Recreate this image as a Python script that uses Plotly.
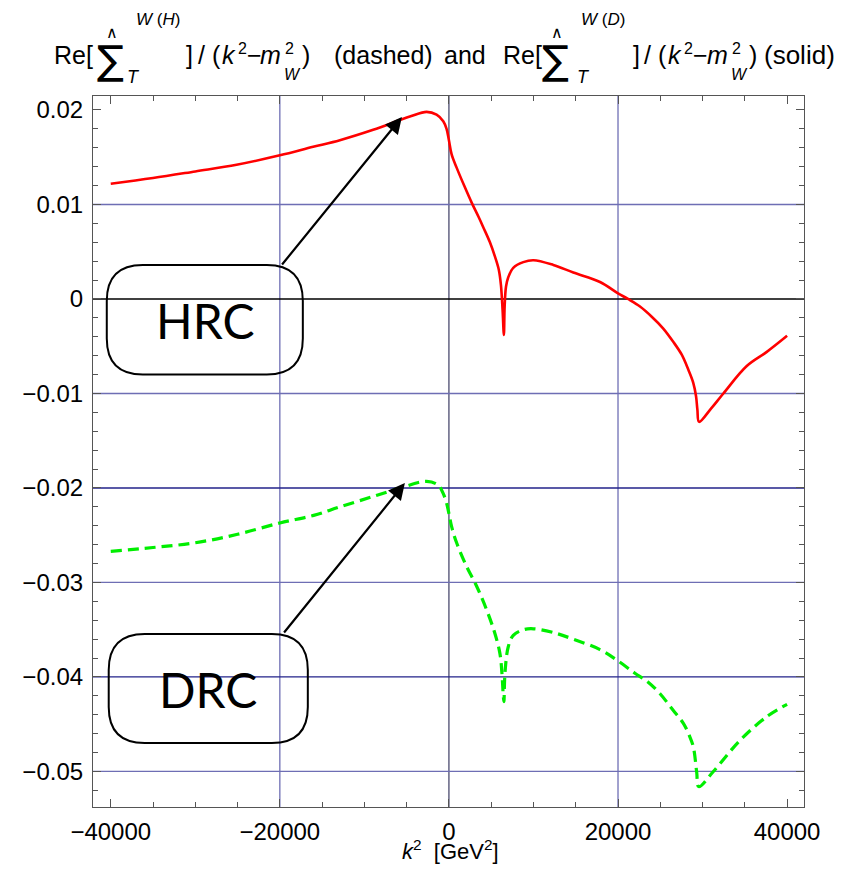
import plotly.graph_objects as go

# ---------------- data ----------------
k2_red = [-40000, -35000, -30000, -25120, -20000, -16060, -12900, -8960, -4620, -2640, -1460,
          -670, -280, 0, 320, 910, 1800, 2690, 3500, 4060, 4850, 5440, 5900, 6150, 6350, 6500,
          6590, 6750, 7020, 7610, 8800, 10000, 12350, 14710, 17870, 20000, 21180, 22600, 24020,
          25330, 26510, 27540, 28320, 28910, 29230, 29390, 29590, 31000, 32460, 35230, 37600,
          40000]
hrc_vals = [0.0122, 0.0128, 0.0135, 0.0142, 0.0152, 0.0161, 0.0168, 0.0179, 0.0193, 0.0198,
            0.0195, 0.0188, 0.0180, 0.0168, 0.0153, 0.0139, 0.0120, 0.0102, 0.0087, 0.0076,
            0.0060, 0.0045, 0.0031, 0.0015, -0.0012, -0.0038, -0.0008, 0.0013, 0.0023, 0.0033,
            0.0039, 0.0041, 0.0036, 0.0028, 0.0018, 0.0006, 0.0000, -0.0008, -0.0019, -0.0031,
            -0.0045, -0.0059, -0.0075, -0.0089, -0.0103, -0.0117, -0.0130, -0.0116, -0.0100,
            -0.0071, -0.0056, -0.0039]

k2_green = [-40000, -35000, -30000, -25000, -20000, -16000, -12900, -8960, -5410, -2640, -1260,
            -670, -280, 0, 320, 910, 2090, 3280, 4460, 5440, 6030, 6270, 6430, 6500, 6630, 7020,
            7610, 8800, 10000, 12350, 14710, 17870, 20000, 22000, 23500, 25000, 26500, 27730,
            28440, 28910, 29310, 29550, 31280, 34440, 37600, 40000]
drc_vals = [-0.0267, -0.0263, -0.0258, -0.0249, -0.0237, -0.0229, -0.0220, -0.0209, -0.0199,
            -0.0193, -0.0197, -0.0206, -0.0216, -0.0227, -0.0241, -0.0258, -0.0283, -0.0304,
            -0.0329, -0.0354, -0.0375, -0.0396, -0.0420, -0.0426, -0.0396, -0.0368, -0.0356,
            -0.0350, -0.0349, -0.0353, -0.0360, -0.0371, -0.0383, -0.0396, -0.0405, -0.0418,
            -0.0435, -0.0449, -0.0462, -0.0474, -0.0501, -0.0516, -0.0500, -0.0467, -0.0442,
            -0.0429]

x_tickvals = [-40000, -20000, 0, 20000, 40000]
x_ticktext = ["\u221240000", "\u221220000", "0", "20000", "40000"]
y_tickvals = [0.02, 0.01, 0, -0.01, -0.02, -0.03, -0.04, -0.05]
y_ticktext = ["0.02", "0.01", "0", "\u22120.01", "\u22120.02", "\u22120.03", "\u22120.04", "\u22120.05"]

x_grid = [-20000, 0, 20000]
y_grid = [0.01, 0, -0.01, -0.02, -0.03, -0.04, -0.05]

X_RANGE = [-42100, 42000]
Y_RANGE = [-0.05376, 0.02148]

# ---------------- figure ----------------
W, H = 846, 877
L, R, T, B = 93, 42, 96, 70
PW, PH = W - L - R, H - T - B


def pxx(xp):
    return (xp - L) / PW


def pxy(yp):
    return (H - B - yp) / PH


fig = go.Figure()

# grid lines (behind data)
for gx in x_grid:
    fig.add_shape(type="line", xref="x", yref="paper", x0=gx, x1=gx, y0=0, y1=1,
                  line=dict(color="#4a4a6e" if gx == 0 else "#6e6eb4", width=1.3), layer="below")
for gy in y_grid:
    if gy == 0:
        col = "#000000"
    elif gy in (-0.02, -0.04):
        col = "#22228a"
    else:
        col = "#6e6eb4"
    fig.add_shape(type="line", xref="paper", yref="y", x0=0, x1=1, y0=gy, y1=gy,
                  line=dict(color=col, width=1.3), layer="below")

fig.add_trace(go.Scatter(x=k2_red, y=hrc_vals, mode="lines",
                         line=dict(color="#ff0000", width=2.6, shape="spline", smoothing=1.0),
                         showlegend=False, hoverinfo="skip"))
fig.add_trace(go.Scatter(x=k2_green, y=drc_vals, mode="lines",
                         line=dict(color="#00ee00", width=3.2, dash="11px,6px", shape="spline", smoothing=1.0),
                         showlegend=False, hoverinfo="skip"))


def rounded_box(x0, x1, y0, y1, rpx):
    # rounded rectangle in data coordinates, radius given in pixels
    rx = rpx * (X_RANGE[1] - X_RANGE[0]) / PW
    ry = rpx * (Y_RANGE[1] - Y_RANGE[0]) / PH
    return (f"M {x0 + rx},{y1} L {x1 - rx},{y1} Q {x1},{y1} {x1},{y1 - ry} "
            f"L {x1},{y0 + ry} Q {x1},{y0} {x1 - rx},{y0} "
            f"L {x0 + rx},{y0} Q {x0},{y0} {x0},{y0 + ry} "
            f"L {x0},{y1 - ry} Q {x0},{y1} {x0 + rx},{y1} Z")


# boxes: (x0, x1, y0, y1)
hrc_box = (-40470, -17280, -0.0080, 0.0036)
drc_box = (-40240, -16690, -0.0470, -0.03545)
for bx in (hrc_box, drc_box):
    fig.add_shape(type="path", xref="x", yref="y", path=rounded_box(*bx, 36),
                  line=dict(color="black", width=2), fillcolor="rgba(0,0,0,0)")

fig.add_annotation(x=-28900, y=-0.0023, xref="x", yref="y", text="HRC", showarrow=False,
                   font=dict(family="Lato", size=48, color="black"))
fig.add_annotation(x=-28500, y=-0.0413, xref="x", yref="y", text="DRC", showarrow=False,
                   font=dict(family="Lato", size=48, color="black"))

# arrows
fig.add_annotation(x=-5560, y=0.01926, ax=-19880, ay=0.00349, xref="x", yref="y",
                   axref="x", ayref="y", text="", showarrow=True, arrowhead=2,
                   arrowsize=1.5, arrowwidth=2.2, arrowcolor="black")
fig.add_annotation(x=-5210, y=-0.01947, ax=-19640, ay=-0.03545, xref="x", yref="y",
                   axref="x", ayref="y", text="", showarrow=True, arrowhead=2,
                   arrowsize=1.5, arrowwidth=2.2, arrowcolor="black")

# ---------------- title pieces ----------------
TF = "Liberation Sans"
SIG = "DejaVu Sans"


def tpiece(text, xp, yp, size, xanchor="left", family=TF):
    fig.add_annotation(x=pxx(xp), y=pxy(yp), xref="paper", yref="paper", text=text,
                       showarrow=False, xanchor=xanchor, yanchor="middle", borderpad=0,
                       font=dict(family=family, size=size, color="black"))


title_pieces = [
    # text, left x (px), centre y (px), size, anchor, family
    ("Re[", 53, 55, 25, "left", TF),
    ("\u2211", 96, 60, 40, "left", SIG),
    ("\u2227", 112, 33, 16, "center", TF),
    ("<i>W</i> (<i>H</i>)", 135, 19, 17, "left", TF),
    ("<i>T</i>", 126, 77, 18, "left", TF),
    ("]", 185, 55, 25, "left", TF),
    ("/", 197, 55, 25, "left", TF),
    ("(", 211, 55, 25, "left", TF),
    ("<i>k</i>", 221, 55, 25, "left", TF),
    ("2", 237, 49, 16, "left", TF),
    ("\u2212", 246, 55, 25, "left", TF),
    ("<i>m</i>", 259, 55, 25, "left", TF),
    ("2", 284, 49, 16, "left", TF),
    ("<i>W</i>", 283, 74, 16, "left", TF),
    (")", 301, 55, 25, "left", TF),
    ("(dashed)", 333, 55, 25, "left", TF),
    ("and", 443, 55, 25, "left", TF),
    ("Re[", 502, 55, 25, "left", TF),
    ("\u2211", 541, 60, 40, "left", SIG),
    ("\u2227", 557, 33, 16, "center", TF),
    ("<i>W</i> (<i>D</i>)", 580, 19, 17, "left", TF),
    ("<i>T</i>", 576, 77, 18, "left", TF),
    ("]", 632, 55, 25, "left", TF),
    ("/", 643, 55, 25, "left", TF),
    ("(", 657, 55, 25, "left", TF),
    ("<i>k</i>", 667, 55, 25, "left", TF),
    ("2", 683, 49, 16, "left", TF),
    ("\u2212", 692, 55, 25, "left", TF),
    ("<i>m</i>", 706, 55, 25, "left", TF),
    ("2", 731, 49, 16, "left", TF),
    ("<i>W</i>", 730, 74, 16, "left", TF),
    (")", 748, 55, 25, "left", TF),
    ("(solid)", 763, 55, 26, "left", TF),
]
for txt, xp, yp, sz, anc, fam in title_pieces:
    tpiece(txt, xp, yp, sz, xanchor=anc, family=fam)

# x-axis title
tpiece("<i>k</i><sup>2</sup>  [GeV<sup>2</sup>]", 450, 850, 22, xanchor="center")

axis_common = dict(showline=True, linecolor="#555555", linewidth=1.2, mirror="allticks",
                   ticks="inside", ticklen=8, tickwidth=1.1, tickcolor="#555555",
                   showgrid=False, zeroline=False, automargin=False,
                   tickfont=dict(family=TF, size=24, color="black"))

fig.update_xaxes(range=X_RANGE, tickvals=x_tickvals, ticktext=x_ticktext, ticklabelstandoff=3,
                 minor=dict(ticks="inside", dtick=5000, tick0=0, ticklen=5, tickcolor="#555555", showgrid=False),
                 **axis_common)
fig.update_yaxes(range=Y_RANGE, tickvals=y_tickvals, ticktext=y_ticktext, ticklabelstandoff=4,
                 minor=dict(ticks="inside", dtick=0.002, tick0=0, ticklen=5, tickcolor="#555555", showgrid=False),
                 **axis_common)

fig.update_layout(width=W, height=H, margin=dict(l=L, r=R, t=T, b=B, autoexpand=False),
                  plot_bgcolor="white", paper_bgcolor="white", showlegend=False)

fig.write_html("out.html", config={"displayModeBar": False},
               post_script="document.body.style.margin='0px';document.body.style.overflow='hidden';")
